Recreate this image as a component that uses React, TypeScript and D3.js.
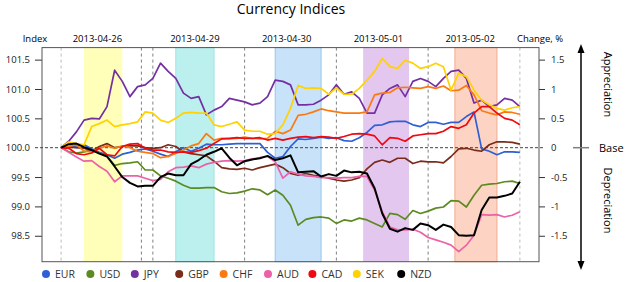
import { useEffect, useRef } from "react";
import * as d3 from "d3";

// hours since the first point (Friday open); data every 2 hours
const hours = d3.range(0, 121, 2);

const dayLines = [0, 21, 24, 48, 72, 96, 120];
const bandStart = [6, 30, 56, 79, 103];
const bandEnd = [16, 40, 68, 91, 114];
const bandFill = ["#ffffba", "#bbf0ef", "#c8e3f9", "#e3c7ef", "#fdd4c4"];
const bandEdge = ["none", "#9fe3e1", "#94c6ef", "none", "#f3a88c"];
const dateLabels = ["2013-04-26", "2013-04-29", "2013-04-30", "2013-05-01", "2013-05-02"];
const dateLabelAt = [9.5, 35, 59, 83, 107];

const leftTicks = [98.5, 99.0, 99.5, 100.0, 100.5, 101.0, 101.5];

const currencies = ["EUR", "USD", "JPY", "GBP", "CHF", "AUD", "CAD", "SEK", "NZD"];
const colors = ["#2f5fd6", "#5b8a1f", "#7430a2", "#7a2c1b", "#fa7a12", "#ec62a8", "#ee0a10", "#ffd200", "#000000"];

const eur = [
  100.00, 100.02, 100.03, 100.05, 99.98, 99.92, 99.88, 99.82, 99.89, 99.92,
  99.96, 99.98, 99.94, 99.89, 99.85, 99.93, 100.00, 99.94, 99.99, 100.06,
  100.05, 100.05, 100.06, 100.07, 100.07, 100.07, 100.07, 99.92, 99.82, 99.85,
  100.02, 100.15, 100.14, 100.16, 100.18, 100.16, 100.17, 100.12, 100.11, 100.17,
  100.26, 100.38, 100.39, 100.44, 100.45, 100.45, 100.39, 100.36, 100.43, 100.43,
  100.40, 100.43, 100.43, 100.53, 100.61, 99.98, 99.94, 99.88, 99.93, 99.93,
  99.92,
];
const usd = [
  100.00, 99.93, 99.91, 99.93, 99.96, 99.91, 99.86, 99.70, 99.73, 99.74,
  99.76, 99.62, 99.62, 99.52, 99.48, 99.43, 99.36, 99.31, 99.31, 99.32,
  99.32, 99.25, 99.22, 99.23, 99.26, 99.30, 99.28, 99.20, 99.28, 99.19,
  99.02, 98.68, 98.78, 98.81, 98.82, 98.80, 98.71, 98.77, 98.75, 98.80,
  98.77, 98.71, 98.65, 98.88, 98.86, 98.78, 98.93, 98.88, 98.92, 98.97,
  98.99, 99.10, 99.09, 98.99, 99.19, 99.36, 99.38, 99.39, 99.42, 99.43,
  99.39,
];
const jpy = [
  100.00, 100.11, 100.27, 100.47, 100.50, 100.49, 100.70, 101.32, 101.13, 100.87,
  101.04, 101.07, 101.18, 101.44, 101.30, 101.18, 100.93, 100.84, 100.87, 100.56,
  100.64, 100.70, 100.84, 100.81, 100.78, 100.73, 100.76, 100.87, 101.15, 101.13,
  101.07, 100.73, 100.73, 100.74, 100.81, 100.90, 101.07, 100.91, 100.95, 100.84,
  100.59, 100.59, 100.90, 101.01, 101.07, 100.87, 101.13, 101.18, 101.13, 101.04,
  101.18, 101.30, 101.32, 101.18, 100.76, 100.81, 100.70, 100.73, 100.84, 100.81,
  100.70,
];
const gbp = [
  100.00, 100.01, 100.00, 99.99, 99.94, 100.02, 100.07, 100.00, 100.02, 100.03,
  100.03, 100.00, 99.99, 100.00, 100.05, 100.02, 99.93, 99.90, 99.88, 99.86,
  99.77, 99.66, 99.64, 99.63, 99.65, 99.62, 99.66, 99.69, 99.72, 99.66,
  99.56, 99.53, 99.56, 99.53, 99.51, 99.48, 99.45, 99.43, 99.45, 99.49,
  99.64, 99.75, 99.79, 99.75, 99.82, 99.82, 99.73, 99.77, 99.76, 99.76,
  99.74, 99.85, 99.98, 99.99, 99.96, 99.94, 100.05, 100.10, 100.10, 100.09,
  100.06,
];
const chf = [
  100.00, 100.02, 100.05, 99.94, 99.93, 99.99, 100.03, 99.99, 100.03, 100.00,
  99.94, 99.92, 99.90, 99.83, 99.85, 99.90, 99.96, 100.03, 100.07, 100.24,
  100.13, 100.16, 100.15, 100.16, 100.18, 100.16, 100.15, 100.16, 100.28, 100.24,
  100.30, 100.55, 100.57, 100.61, 100.66, 100.63, 100.61, 100.59, 100.59, 100.59,
  100.61, 100.90, 100.93, 100.94, 101.02, 101.03, 101.02, 101.01, 101.04, 101.01,
  101.05, 100.97, 100.98, 101.06, 100.90, 100.63, 100.59, 100.56, 100.61, 100.60,
  100.57,
];
const aud = [
  100.00, 99.92, 99.84, 99.77, 99.78, 99.68, 99.60, 99.42, 99.52, 99.52,
  99.52, 99.48, 99.44, 99.46, 99.59, 99.66, 99.67, 99.69, 99.66, 99.72,
  99.75, 99.77, 99.78, 99.77, 99.78, 99.81, 99.83, 99.85, 99.76, 99.48,
  99.59, 99.55, 99.52, 99.51, 99.49, 99.49, 99.48, 99.49, 99.49, 99.51,
  99.51, 99.28, 98.91, 98.65, 98.60, 98.60, 98.61, 98.56, 98.47, 98.43,
  98.39, 98.34, 98.23, 98.34, 98.51, 98.86, 98.85, 98.86, 98.82, 98.85,
  98.91,
];
const cad = [
  100.00, 99.99, 99.90, 99.88, 99.91, 99.99, 99.88, 99.86, 100.02, 100.06,
  100.07, 99.99, 99.96, 99.96, 99.93, 99.92, 99.93, 99.92, 99.95, 99.99,
  100.07, 100.15, 100.16, 100.17, 100.16, 100.16, 100.17, 100.13, 100.16, 100.13,
  100.16, 100.18, 100.19, 100.17, 100.19, 100.18, 100.16, 100.19, 100.23, 100.24,
  100.23, 100.20, 100.05, 100.17, 100.16, 100.11, 100.20, 100.22, 100.24, 100.24,
  100.28, 100.36, 100.33, 100.39, 100.59, 100.70, 100.70, 100.59, 100.50, 100.47,
  100.39,
];
const sek = [
  100.00, 100.10, 100.07, 100.05, 100.36, 100.41, 100.47, 100.36, 100.39, 100.41,
  100.44, 100.61, 100.59, 100.47, 100.43, 100.50, 100.59, 100.60, 100.59, 100.59,
  100.39, 100.36, 100.40, 100.44, 100.30, 100.28, 100.28, 100.23, 100.24, 100.39,
  100.67, 101.06, 101.01, 101.02, 101.01, 100.91, 101.02, 100.91, 100.91, 101.01,
  101.15, 101.30, 101.52, 101.38, 101.35, 101.49, 101.44, 101.35, 101.38, 101.44,
  101.38, 100.98, 101.27, 101.21, 100.98, 100.81, 100.73, 100.67, 100.64, 100.68,
  100.70,
];
const nzd = [
  100.00, 100.06, 100.07, 100.01, 99.96, 99.90, 99.85, 99.68, 99.50, 99.40,
  99.34, 99.35, 99.35, 99.50, 99.56, 99.53, 99.53, 99.72, 99.79, 99.88,
  99.93, 99.99, 99.83, 99.70, 99.77, 99.80, 99.82, 99.86, 99.79, 99.82,
  99.87, 99.58, 99.59, 99.60, 99.51, 99.55, 99.52, 99.61, 99.58, 99.59,
  99.56, 99.31, 98.88, 98.62, 98.57, 98.63, 98.60, 98.71, 98.68, 98.60,
  98.69, 98.65, 98.51, 98.50, 98.51, 98.94, 99.15, 99.15, 99.18, 99.22,
  99.42,
];
const series = [eur, usd, jpy, gbp, chf, aud, cad, sek, nzd];

const font = "'Open Sans', 'DejaVu Sans', sans-serif";

function App() {
  const ref = useRef<SVGSVGElement>(null);

  useEffect(() => {
    const svg = d3.select(ref.current);
    svg.selectAll("*").remove();

    const left = 42, right = 539, top = 47.6, bottom = 261.7;
    const x = d3.scaleLinear().domain([-5, 125]).range([left, right]);
    const y = d3.scaleLinear().domain([98.058, 101.705]).range([bottom, top]);

    // title
    svg.append("text")
      .attr("x", 291).attr("y", 14)
      .attr("text-anchor", "middle")
      .style("font", `14px ${font}`)
      .text("Currency Indices");

    // session bands
    svg.append("g").selectAll("rect")
      .data(bandStart)
      .join("rect")
      .attr("x", (d) => x(d))
      .attr("y", top)
      .attr("width", (d, i) => x(bandEnd[i]) - x(d))
      .attr("height", bottom - top)
      .attr("fill", (d, i) => bandFill[i])
      .attr("stroke", (d, i) => bandEdge[i])
      .attr("stroke-width", 1);

    // day separators
    svg.append("g").selectAll("line")
      .data(dayLines)
      .join("line")
      .attr("x1", (d) => x(d)).attr("x2", (d) => x(d))
      .attr("y1", top).attr("y2", bottom)
      .attr("stroke", (d, i) => (i === 0 || i === dayLines.length - 1 ? "#bbbbbb" : "#7f7f7f"))
      .attr("stroke-dasharray", "3,3")
      .attr("stroke-width", 1);

    // date labels + axis titles
    svg.append("g").selectAll("text")
      .data(dateLabels)
      .join("text")
      .attr("x", (d, i) => x(dateLabelAt[i]))
      .attr("y", 42)
      .attr("text-anchor", "middle")
      .style("font", `9.5px ${font}`)
      .text((d) => d);
    svg.append("text").attr("x", 35).attr("y", 42).attr("text-anchor", "middle")
      .style("font", `9.5px ${font}`).text("Index");
    svg.append("text").attr("x", 540).attr("y", 42).attr("text-anchor", "middle")
      .style("font", `9.5px ${font}`).text("Change, %");

    // left axis
    const gl = svg.append("g")
      .attr("transform", `translate(${left},0)`)
      .call(d3.axisLeft(y).tickValues(leftTicks).tickFormat(d3.format(".1f")).tickSize(7).tickPadding(5));
    // right axis (change in %)
    const gr = svg.append("g")
      .attr("transform", `translate(${right},0)`)
      .call(d3.axisRight(y).tickValues(leftTicks)
        .tickFormat((d) => String(+(+d - 100).toFixed(1)).replace("\u2212", "-"))
        .tickSize(6).tickPadding(6));
    [gl, gr].forEach((g) => {
      g.select(".domain").remove();
      g.selectAll("line").attr("stroke", "#333");
      g.selectAll(".tick").filter((d) => d === 100).select("line").remove();
      g.selectAll("text").style("font", `9.5px ${font}`).attr("fill", "#222");
    });

    // frame
    svg.append("rect")
      .attr("x", left).attr("y", top)
      .attr("width", right - left).attr("height", bottom - top)
      .attr("fill", "none").attr("stroke", "#555").attr("stroke-width", 1);

    // base line at 100
    svg.append("line")
      .attr("x1", 35).attr("x2", 545)
      .attr("y1", y(100)).attr("y2", y(100))
      .attr("stroke", "#444").attr("stroke-dasharray", "3,2").attr("stroke-width", 1);

    // series
    const line = d3.line<number>()
      .x((d, i) => x(hours[i]))
      .y((d) => y(d));
    svg.append("g").selectAll("path")
      .data(series)
      .join("path")
      .attr("fill", "none")
      .attr("stroke", (d, i) => colors[i])
      .attr("stroke-width", (d, i) => (i === 8 ? 2 : 1.7))
      .attr("stroke-linejoin", "round")
      .attr("d", (d) => line(d));

    // appreciation / depreciation arrow
    const ax = 581;
    svg.append("line").attr("x1", ax).attr("x2", ax).attr("y1", 52).attr("y2", 262)
      .attr("stroke", "#000").attr("stroke-width", 1.5);
    svg.append("path").attr("d", `M${ax},44 L${ax - 3.5},53 L${ax + 3.5},53 Z`).attr("fill", "#000");
    svg.append("path").attr("d", `M${ax},270 L${ax - 3.5},261 L${ax + 3.5},261 Z`).attr("fill", "#000");
    svg.append("line").attr("x1", 573).attr("x2", 589).attr("y1", y(100)).attr("y2", y(100))
      .attr("stroke", "#808080").attr("stroke-width", 1.5);
    svg.append("text").attr("x", 599).attr("y", y(100)).attr("dy", "0.35em")
      .style("font", `11px ${font}`).text("Base");
    svg.append("text").attr("transform", "translate(604,84.5) rotate(90)")
      .attr("text-anchor", "middle")
      .style("font", `11px ${font}`).text("Appreciation");
    svg.append("text").attr("transform", "translate(604,200.5) rotate(90)")
      .attr("text-anchor", "middle")
      .style("font", `11px ${font}`).text("Depreciation");

    // legend
    const lg = svg.append("g").selectAll("g")
      .data(currencies)
      .join("g")
      .attr("transform", (d, i) => `translate(${46 + i * 44.4},274)`);
    lg.append("circle").attr("r", 4).attr("fill", (d, i) => colors[i]);
    lg.append("text").attr("x", 9).attr("dy", "0.35em")
      .style("font", `10.5px ${font}`).attr("fill", "#333")
      .text((d) => d);
  }, []);

  return (
    <svg ref={ref} width={625} height={282}
      style={{ position: "absolute", left: 0, top: 0, background: "#fff" }} />
  );
}

export default App;
